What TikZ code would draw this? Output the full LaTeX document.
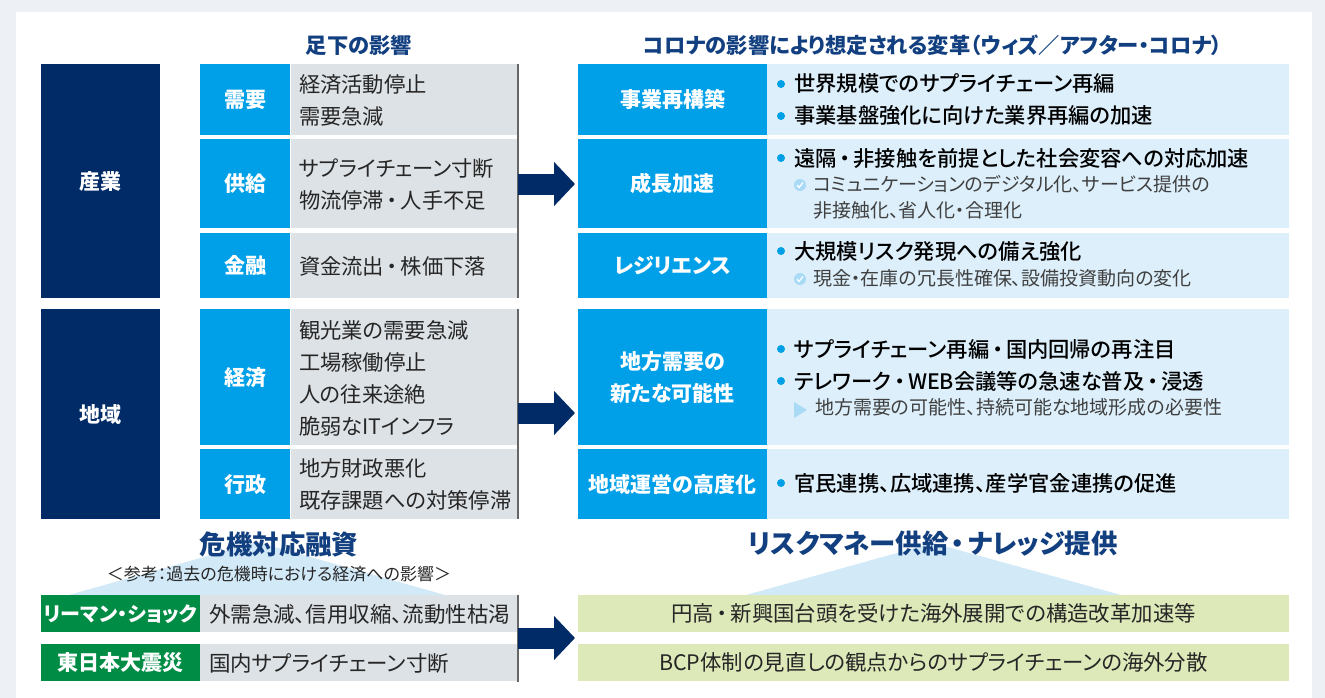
\documentclass[tikz,border=0pt]{standalone}
\usepackage{fontspec}
\setmainfont{Noto Sans CJK JP}[RawFeature={+palt}]
\newfontfamily\medfont{Noto Sans CJK JP Medium}[RawFeature={+palt}]
\usetikzlibrary{arrows.meta}
\definecolor{pagegray}{HTML}{EDF1F5}
\definecolor{navy}{HTML}{002B66}
\definecolor{headblue}{HTML}{123F7F}
\definecolor{cyanbox}{HTML}{00A0E9}
\definecolor{palebox}{HTML}{DCEFFB}
\definecolor{graybox}{HTML}{DDE2E6}
\definecolor{greenbox}{HTML}{008C45}
\definecolor{olivebox}{HTML}{DDE9B9}
\definecolor{peak}{HTML}{D2E9F8}
\definecolor{chk}{HTML}{A9DAF6}
\newcommand{\dt}{\kern3pt・\kern3pt}
\tikzset{
    box/.style={anchor=north west, inner sep=0pt, outer sep=0pt},
    navybox/.style={box, fill=navy, text=white, minimum width=119pt, text height=19pt, text depth=3pt, font=\bfseries\fontsize{21}{32}\selectfont},
    labelbox/.style={box, fill=cyanbox, text=white, minimum width=90pt, text height=19pt, text depth=3pt, font=\bfseries\fontsize{21}{32}\selectfont},
    infobox/.style={box, fill=graybox, text=black!85, minimum width=227pt, inner xsep=8pt, text width=211pt, align=left, execute at end node={\vspace{-2pt}}, font=\fontsize{21.3}{32}\selectfont},
    rightlabel/.style={box, fill=cyanbox, text=white, minimum width=189pt, font=\bfseries\fontsize{21}{32}\selectfont},
    rightsingle/.style={rightlabel, text height=19pt, text depth=3pt},
    rightpanel/.style={box, fill=palebox, minimum width=522pt},
    bigline/.style={anchor=west, inner sep=0pt, text height=18pt, text depth=2pt, text=black, font=\medfont\fontsize{21.3}{24}\selectfont},
    subline/.style={anchor=west, inner sep=0pt, text height=16pt, text depth=3pt, text=black!75, font=\fontsize{19}{24}\selectfont},
    heading/.style={inner sep=0pt, text=headblue, font=\bfseries\fontsize{21.3}{24}\selectfont},
    bigheading/.style={inner sep=0pt, text=headblue, font=\bfseries\fontsize{26.4}{30}\selectfont},
    greenlabel/.style={box, fill=greenbox, text=white, minimum width=159pt, minimum height=37pt, text height=18pt, text depth=3pt, font=\bfseries\fontsize{21}{24}\selectfont},
    casebox/.style={box, fill=graybox, text=black!85, minimum width=318pt, minimum height=37pt, inner xsep=9pt, text width=300pt, align=left, execute at end node={\vspace{-2pt}}, font=\fontsize{21.5}{24}\selectfont},
    olive/.style={box, fill=olivebox, text=black!85, minimum width=711pt, minimum height=37pt, text height=18pt, text depth=3pt, font=\fontsize{21.4}{24}\selectfont},
    bigarrow/.style={navy, line width=21pt, -{Triangle[length=21pt, width=43pt]}, shorten >=3pt},
}
\newcommand{\chkmark}[2]{
    \fill[chk] (#1,#2) circle (6);
    \draw[white, line width=1.3pt] (#1-3,#2) -- (#1-1,#2+2.5) -- (#1+3,#2-2.5);
}
\begin{document}
\begin{tikzpicture}[x=1pt, y=-1pt]
    \useasboundingbox (0,0) rectangle (1325,698);
    \fill[pagegray] (0,0) rectangle (1325,698);
    \fill[white] (16,12) rectangle (1312,698);

    % headings
    \node[heading] (leftTitle) at (359,45) {足下の影響};
    \node[heading] (rightTitle) at (933,45) {コロナの影響により想定される変革（ウィズ／アフター・コロナ）};

    % left column
    \node[navybox, minimum height=234pt] (sangyo) at (41,64) {産業};
    \node[navybox, minimum height=210pt] (chiiki) at (41,309) {地域};

    \node[labelbox, minimum height=71pt] (juyo) at (200,64) {需要};
    \node[labelbox, minimum height=89pt] (kyokyu) at (200,139) {供給};
    \node[labelbox, minimum height=65pt] (kinyu) at (200,233) {金融};
    \node[labelbox, minimum height=136pt] (keizai) at (200,309) {経済};
    \node[labelbox, minimum height=70pt] (gyosei) at (200,449) {行政};

    \node[infobox, minimum height=71pt] (juyoInfo) at (291,64) {経済活動停止\\需要急減};
    \node[infobox, minimum height=89pt] (kyokyuInfo) at (291,139) {サプライチェーン寸断\\物流停滞\dt 人手不足};
    \node[infobox, minimum height=65pt] (kinyuInfo) at (291,233) {資金流出\dt 株価下落};
    \node[infobox, minimum height=136pt] (keizaiInfo) at (291,309) {観光業の需要急減\\工場稼働停止\\人の往来途絶\\脆弱なITインフラ};
    \node[infobox, minimum height=70pt] (gyoseiInfo) at (291,449) {地方財政悪化\\既存課題への対策停滞};

    \draw[black!60, line width=1.5pt] (518,64) -- (518,298);
    \draw[black!60, line width=1.5pt] (518,309) -- (518,519);

    % right column
    \node[rightsingle, minimum height=71pt] (saikochiku) at (578,64) {事業再構築};
    \node[rightsingle, minimum height=89pt] (seicho) at (578,139) {成長加速};
    \node[rightsingle, minimum height=65pt] (resilience) at (578,233) {レジリエンス};
    \node[rightlabel, minimum height=136pt, align=center] (kanosei) at (578,309) {地方需要の\\新たな可能性};
    \node[rightsingle, minimum height=70pt] (unei) at (578,449) {地域運営の高度化};

    \node[rightpanel, minimum height=71pt] (panelA) at (767,64) {};
    \node[rightpanel, minimum height=89pt] (panelB) at (767,139) {};
    \node[rightpanel, minimum height=65pt] (panelC) at (767,233) {};
    \node[rightpanel, minimum height=136pt] (panelD) at (767,309) {};
    \node[rightpanel, minimum height=70pt] (panelE) at (767,449) {};

    \foreach \y in {84,116,158,251,349,381,483}
        \fill[cyanbox] (781,\y) circle (4);

    \node[bigline] (a1) at (794,84) {世界規模でのサプライチェーン再編};
    \node[bigline] (a2) at (794,116) {事業基盤強化に向けた業界再編の加速};
    \node[bigline] (b1) at (794,158) {遠隔\dt 非接触を前提とした社会変容への対応加速};
    \node[subline] (b2) at (813,185) {コミュニケーションのデジタル化、サービス提供の};
    \node[subline] (b3) at (813,211) {非接触化、省人化・合理化};
    \node[bigline] (c1) at (794,251) {大規模リスク発現への備え強化};
    \node[subline] (c2) at (813,279) {現金・在庫の冗長性確保、設備投資動向の変化};
    \node[bigline] (d1) at (794,349) {サプライチェーン再編\dt 国内回帰の再注目};
    \node[bigline] (d2) at (794,381) {テレワーク\dt WEB会議等の急速な普及\dt 浸透};
    \node[subline] (d3) at (815,408) {地方需要の可能性、持続可能な地域形成の必要性};
    \node[bigline] (e1) at (794,483) {官民連携、広域連携、産学官金連携の促進};

    \chkmark{800}{185}
    \chkmark{800}{279}
    \fill[chk] (794,402) -- (807,410) -- (794,418) -- cycle;

    % triangles under the bottom headings
    \fill[peak] (69,595) -- (257,542) -- (445,595) -- cycle;
    \fill[peak] (746,595) -- (933,543) -- (1121,595) -- cycle;
    \node[bigheading] (yushi) at (279,544) {危機対応融資};
    \node[bigheading] (money) at (933,544) {リスクマネー供給\dt ナレッジ提供};
    \node[inner sep=0pt, text=black!85, font=\fontsize{17}{24}\selectfont] (sanko) at (279,574) {＜参考：過去の危機時における経済への影響＞};

    % bottom rows
    \node[greenlabel, font=\bfseries\fontsize{20}{24}\selectfont] (lehman) at (41,595) {リーマン・ショック};
    \node[greenlabel] (shinsai) at (41,644) {東日本大震災};
    \node[casebox] (lehmanInfo) at (200,595) {外需急減、信用収縮、流動性枯渇};
    \node[casebox] (shinsaiInfo) at (200,644) {国内サプライチェーン寸断};
    \draw[black!60, line width=1.5pt] (518,595) -- (518,682);
    \node[olive] (endaka) at (578,595) {円高\dt 新興国台頭を受けた海外展開での構造改革加速等};
    \node[olive] (bcp) at (578,644) {BCP体制の見直しの観点からのサプライチェーンの海外分散};

    % arrows
    \coordinate (fromA) at (518,184);
    \coordinate (toA) at (578,184);
    \coordinate (fromB) at (518,413);
    \coordinate (toB) at (578,413);
    \coordinate (fromC) at (518,638);
    \coordinate (toC) at (578,638);
    \draw[bigarrow] (fromA) -- (toA);
    \draw[bigarrow] (fromB) -- (toB);
    \draw[bigarrow] (fromC) -- (toC);
\end{tikzpicture}
\end{document}
